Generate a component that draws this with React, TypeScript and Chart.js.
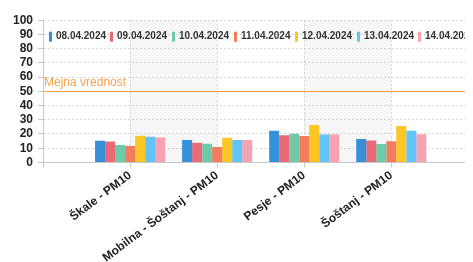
import React, { useEffect, useRef } from "react";
import { Chart, registerables } from "chart.js";

Chart.register(...registerables);

const categories = ["Škale - PM10", "Mobilna - Šoštanj - PM10", "Pesje - PM10", "Šoštanj - PM10"];
const seriesLabels = ["08.04.2024", "09.04.2024", "10.04.2024", "11.04.2024", "12.04.2024", "13.04.2024", "14.04.2024"];
const s0804 = [15.2, 15.8, 22.2, 16.5];
const s0904 = [14.7, 13.8, 19.2, 15.4];
const s1004 = [12.3, 13.2, 20.1, 13.0];
const s1104 = [11.6, 10.9, 18.6, 14.9];
const s1204 = [18.8, 17.4, 26.4, 25.7];
const s1304 = [18.1, 15.8, 19.7, 22.2];
const s1404 = [17.5, 15.8, 19.7, 19.8];
const seriesValues = [s0804, s0904, s1004, s1104, s1204, s1304, s1404];
const seriesColors = ["#3590d8", "#ea6a75", "#6ecaa9", "#f27d5c", "#fcc624", "#60c4f8", "#f7a2b0"];
const yTicks = [0, 10, 20, 30, 40, 50, 60, 70, 80, 90, 100];
const LIMIT_VALUE = 50;
const LIMIT_LABEL = "Mejna vrednost";

const FONT = "'Liberation Sans', Arial, sans-serif";

const extrasPlugin = {
  id: "extras",
  beforeDatasetsDraw(chart: any) {
    const { ctx, chartArea, scales } = chart;
    const x = scales.x;
    ctx.save();
    ctx.fillStyle = "rgba(0,0,0,0.035)";
    for (let i = 1; i < categories.length + 1; i += 2) {
      const a = x.getPixelForValue(i);
      const b = x.getPixelForValue(i + 1);
      ctx.fillRect(a, chartArea.top, b - a, chartArea.bottom - chartArea.top);
    }
    ctx.restore();
  },
  afterDraw(chart: any) {
    const { ctx, chartArea, scales } = chart;
    const y = scales.y;
    ctx.save();
    const ly = Math.round(y.getPixelForValue(LIMIT_VALUE));
    ctx.globalAlpha = 1;
    ctx.globalCompositeOperation = "source-over";
    ctx.fillStyle = "#f59a3c";
    ctx.fillRect(chartArea.left + 1, ly, chartArea.right - chartArea.left, 1);
    ctx.fillStyle = "#f5a24f";
    ctx.font = "12px " + FONT;
    ctx.textBaseline = "alphabetic";
    ctx.textAlign = "left";
    ctx.fillText(LIMIT_LABEL, chartArea.left + 1, ly - 5);

    // legend inside plot area
    ctx.font = "bold 10px " + FONT;
    ctx.textBaseline = "middle";
    const cy = chartArea.top + 16.5;
    let cx = chartArea.left + 5.5;
    chart.data.datasets.forEach((ds: any) => {
      ctx.fillStyle = ds.backgroundColor;
      ctx.fillRect(Math.round(cx), cy - 5, 3, 10);
      ctx.fillStyle = "#333";
      ctx.fillText(ds.label, Math.round(cx) + 7, cy);
      const w = ctx.measureText(ds.label).width;
      cx += 7 + w + 4.7;
    });
    ctx.restore();
  },
};

export default function App() {
  const ref = useRef<HTMLCanvasElement | null>(null);
  useEffect(() => {
    if (!ref.current) return;
    const labels = ["", ...categories, ""];
    const chart = new Chart(ref.current, {
      type: "bar",
      data: {
        labels,
        datasets: seriesLabels.map((l, i) => ({
          label: l,
          data: [null, ...seriesValues[i], null],
          backgroundColor: seriesColors[i],
          borderWidth: 0,
          barPercentage: 1.0,
          categoryPercentage: 0.805,
        })),
      },
      options: {
        animation: false,
        responsive: false,
        layout: { padding: { left: 0, top: 5, right: 5, bottom: 0 } },
        plugins: {
          tooltip: { enabled: false },
          legend: { display: false },
        },
        scales: {
          x: {
            offset: false,
            grid: {
              offset: false,
              color: "#d8d8d8",
              tickColor: "#c8c8c8",
              tickLength: 5,
            },
            border: { color: "#c8c8c8", dash: [2, 2] },
            ticks: {
              autoSkip: false,
              maxRotation: 37,
              minRotation: 37,
              color: "#222",
              padding: 1,
              font: { family: FONT, size: 12, weight: "bold" },
            },
          },
          y: {
            min: 0,
            max: 100,
            afterBuildTicks(scale: any) {
              scale.ticks = yTicks.map((v) => ({ value: v }));
            },
            grid: {
              color: "#d8d8d8",
              tickColor: "#c8c8c8",
              tickLength: 5,
            },
            border: { color: "#c8c8c8", dash: [2, 2] },
            ticks: {
              autoSkip: false,
              color: "#222",
              padding: 5,
              font: { family: FONT, size: 12, weight: "bold" },
            },
          },
        },
      },
      plugins: [extrasPlugin],
    } as any);
    return () => chart.destroy();
  }, []);
  return (
    <div style={{ width: 465, height: 254, overflow: "hidden" }}>
      <canvas ref={ref} width={480} height={258} style={{ display: "block" }} />
    </div>
  );
}
